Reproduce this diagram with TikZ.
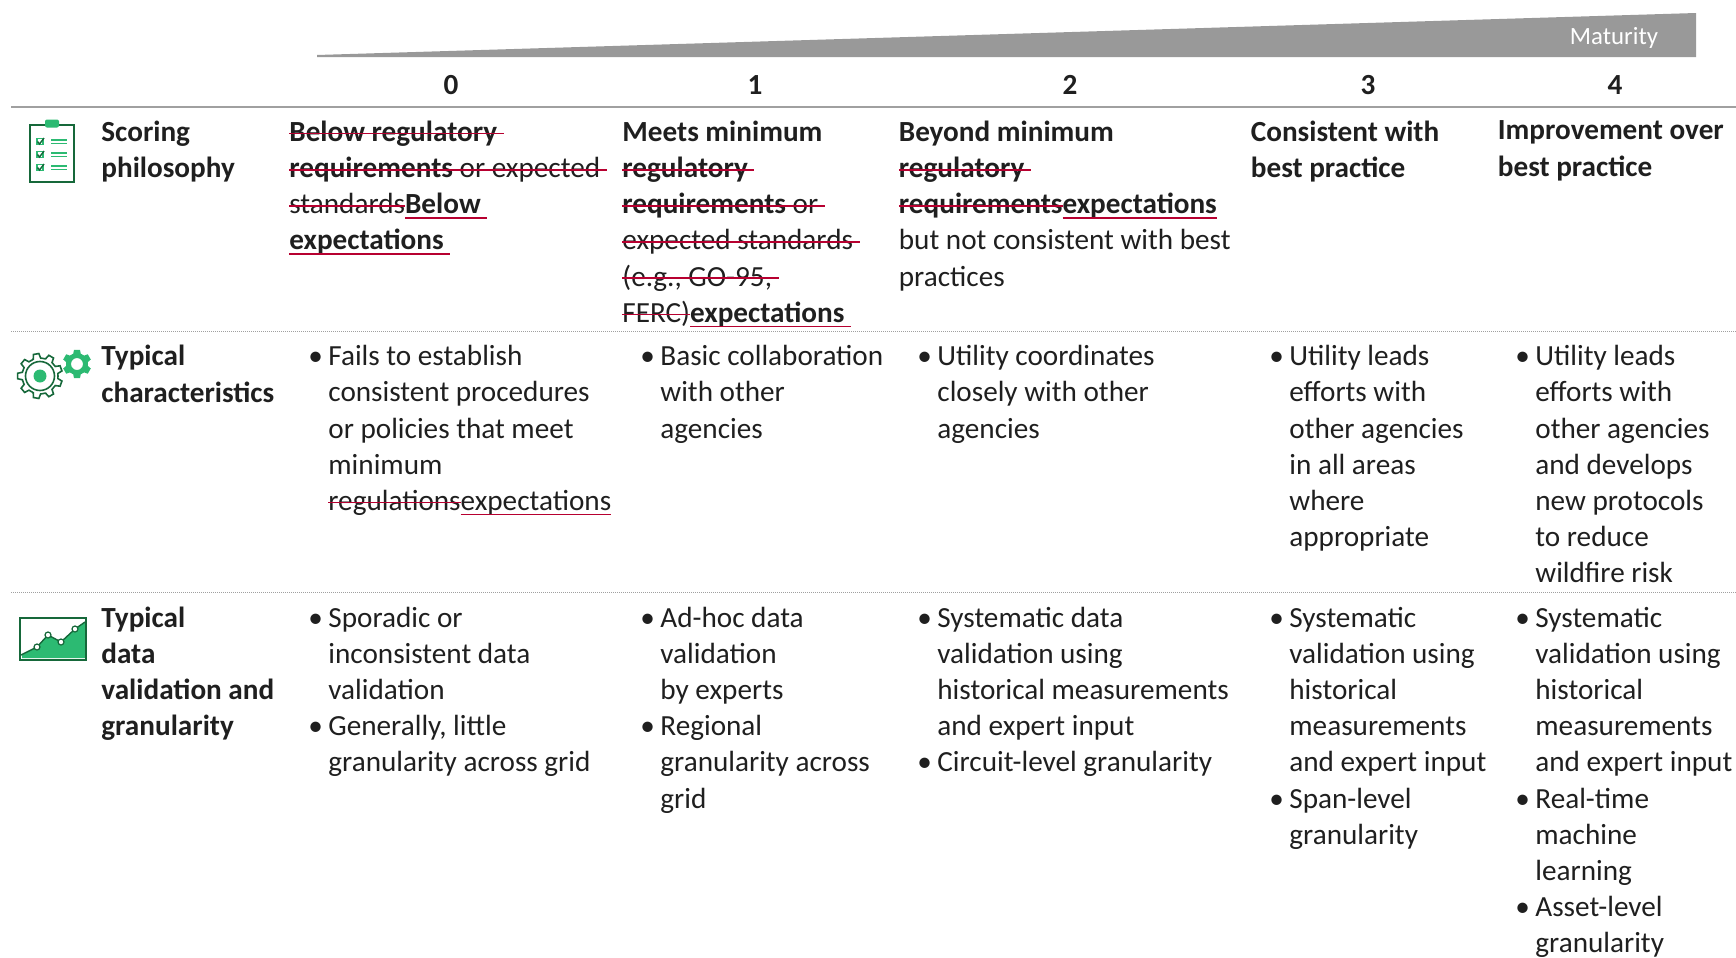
\documentclass[tikz,border=0pt]{standalone}
\usepackage{fontspec}
\setmainfont{Carlito}

\definecolor{txtgray}{RGB}{31,31,31}
\definecolor{edred}{RGB}{183,0,48}
\definecolor{wedgegray}{RGB}{153,153,153}
\definecolor{rulegray}{RGB}{160,160,160}
\definecolor{icondark}{RGB}{22,104,58}
\definecolor{iconlight}{RGB}{44,186,114}

\newcommand\cellfont{\fontsize{14.6}{18.1}\selectfont}
\newcommand\matfont{\fontsize{12.4}{14}\selectfont}
\newsavebox\edbox
\newcommand\oldtxt[1]{\sbox\edbox{#1}{\color{edred}\rlap{\usebox\edbox}\rule[0.24em]{\wd\edbox}{0.9pt}}}
\newcommand\newtxt[1]{\sbox\edbox{#1}{\color{edred}\rlap{\usebox\edbox}\rule[-0.17em]{\wd\edbox}{0.9pt}}}
\newcommand\bul{\llap{\textbullet\hspace{2.8pt}}}

\tikzset{
  cell/.style={anchor=north west, inner sep=0pt, align=left, font=\cellfont, text=txtgray, execute at begin node=\strut},
  lab/.style={cell, font=\cellfont\bfseries},
  num/.style={anchor=base, inner sep=0pt, font=\cellfont\bfseries, text=txtgray},
  sepline/.style={draw=rulegray, line width=0.5pt, dash pattern=on 0.5pt off 0.5pt},
  iconline/.style={draw=icondark, line width=0.8pt},
}

\begin{document}
\begin{tikzpicture}[x=0.5pt,y=0.5pt,yscale=-1,xscale=1]
\useasboundingbox (0,0) rectangle (1736,958);

%Shape: Maturity wedge
\fill[wedgegray] (317,55) -- (1696,13) -- (1696,57) -- (317,57) -- cycle;
% Text Node
\draw (1614,45) node (mat) [anchor=base, inner sep=0pt, font=\matfont, text=white] {Maturity};

% Text Node
\draw (451,94) node (n0) [num] {0};
\draw (755,94) node (n1) [num] {1};
\draw (1070,94) node (n2) [num] {2};
\draw (1368,94) node (n3) [num] {3};
\draw (1615,94) node (n4) [num] {4};

%Straight Lines
\draw[rulegray, line width=1pt] (11,107) -- (1736,107);
\draw[sepline] (11,331) -- (1736,331);
\draw[sepline] (11,592) -- (1736,592);

%Shape: Clipboard icon
\draw[iconline, line width=1pt] (29.5,125) rectangle (73.5,182);
\fill[iconlight, rounded corners=1pt] (45,119.5) rectangle (59,127.5);
\foreach \y in {141.5,154.5,167.5} {
  \draw[iconlight, line width=0.6pt] (37,\y-3) rectangle (43,\y+3);
  \draw[icondark, line width=0.7pt] (37.5,\y) -- (39.5,\y+2.5) -- (44,\y-3.5);
  \draw[iconlight, line width=0.7pt] (51,\y-1.7) -- (67,\y-1.7) (51,\y+1.7) -- (67,\y+1.7);
}

%Shape: Gears icon
\begin{scope}[shift={(40,376)}]
  \draw[iconline] (0:18) \foreach \a in {0,40,...,320} { -- (\a+8:18) -- (\a+13:22.5) -- (\a+27:22.5) -- (\a+32:18) } -- cycle;
  \draw[iconline] (0,0) circle[radius=14.5];
  \fill[iconlight] (0,0) circle[radius=6.5];
\end{scope}
\begin{scope}[shift={(77,364)}]
  \fill[iconlight, even odd rule] (0:11) \foreach \a in {0,60,...,300} { -- (\a+10:11) -- (\a+18:14.5) -- (\a+42:14.5) -- (\a+50:11) } -- cycle (0,0) circle[radius=6];
\end{scope}

%Shape: Chart icon
\fill[iconlight] (22,655) -- (37,647) -- (48,635) -- (61,642) -- (75,629) -- (85,622) -- (85,658) -- (22,658) -- cycle;
\draw[icondark, line width=1pt] (20,618) rectangle (86,660);
\draw[icondark, line width=0.7pt] (21,655) -- (37,647) -- (48,635) -- (61,642) -- (75,629) -- (85,622);
\foreach \p in {(37,647),(48,635),(61,642),(75,629)}
  \draw[icondark, fill=white, line width=0.6pt] \p circle[radius=3];

% Text Node
\draw (101,120.5) node (lab1) [lab] {Scoring\\philosophy};
% Text Node
\draw (101,345) node (lab2) [lab] {Typical\\characteristics};
% Text Node
\draw (101,606.5) node (lab3) [lab] {Typical\\data\\validation and\\granularity};

% Text Node
\draw (289,120.5) node (c10) [cell] {{\bfseries\oldtxt{Below regulatory\ }}\\{\bfseries\oldtxt{requirements}}\oldtxt{\ or expected\ }\\\oldtxt{standards}{\bfseries\newtxt{Below\ }}\\{\bfseries\newtxt{expectations\ }}};
% Text Node
\draw (622,120.5) node (c11) [cell] {\textbf{Meets minimum}\\{\bfseries\oldtxt{regulatory\ }}\\{\bfseries\oldtxt{requirements}}\oldtxt{\ or\ }\\\oldtxt{expected standards\ }\\\oldtxt{(e.g., GO-95,\ }\\\oldtxt{FERC)}{\bfseries\newtxt{expectations\ }}};
% Text Node
\draw (898.5,120.5) node (c12) [cell] {\textbf{Beyond minimum}\\{\bfseries\oldtxt{regulatory\ }}\\{\bfseries\oldtxt{requirements}\newtxt{expectations}}\\but not consistent with best\\practices};
% Text Node
\draw (1250.5,120.5) node (c13) [cell] {\textbf{Consistent with}\\\textbf{best practice}};
% Text Node
\draw (1497.5,120.5) node (c14) [cell] {\textbf{Improvement over}\\\textbf{best practice}};

% Text Node
\draw (328,345) node (c20) [cell] {\bul Fails to establish\\consistent procedures\\or policies that meet\\minimum\\\oldtxt{regulations}\newtxt{expectations}};
% Text Node
\draw (660,345) node (c21) [cell] {\bul Basic collaboration\\with other\\agencies};
% Text Node
\draw (937,345) node (c22) [cell] {\bul Utility coordinates\\closely with other\\agencies};
% Text Node
\draw (1289,345) node (c23) [cell] {\bul Utility leads\\efforts with\\other agencies\\in all areas\\where\\appropriate};
% Text Node
\draw (1535,345) node (c24) [cell] {\bul Utility leads\\efforts with\\other agencies\\and develops\\new protocols\\to reduce\\wildfire risk};

% Text Node
\draw (328,606.5) node (c30) [cell] {\bul Sporadic or\\inconsistent data\\validation\\\bul Generally, little\\granularity across grid};
% Text Node
\draw (660,606.5) node (c31) [cell] {\bul Ad-hoc data\\validation\\by experts\\\bul Regional\\granularity across\\grid};
% Text Node
\draw (937,606.5) node (c32) [cell] {\bul Systematic data\\validation using\\historical measurements\\and expert input\\\bul Circuit-level granularity};
% Text Node
\draw (1289,606.5) node (c33) [cell] {\bul Systematic\\validation using\\historical\\measurements\\and expert input\\\bul Span-level\\granularity};
% Text Node
\draw (1535,606.5) node (c34) [cell] {\bul Systematic\\validation using\\historical\\measurements\\and expert input\\\bul Real-time\\machine\\learning\\\bul Asset-level\\granularity};

\end{tikzpicture}
\end{document}
